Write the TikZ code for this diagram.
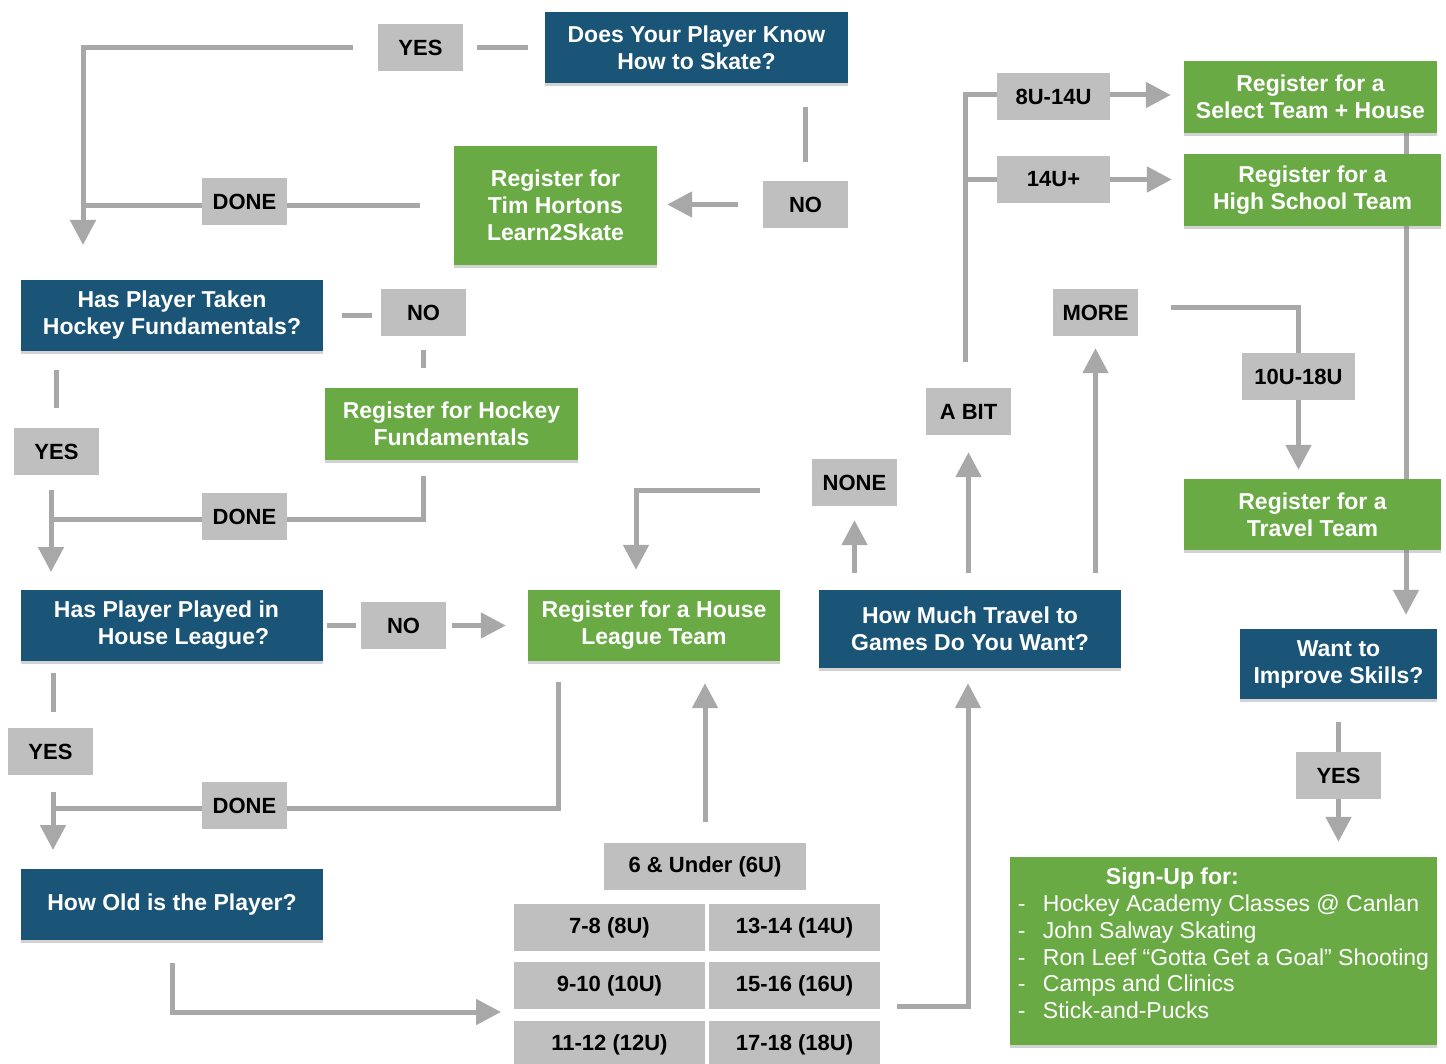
\documentclass[tikz,border=0pt]{standalone}
\usepackage{fontspec}
\setmainfont{Liberation Sans}
\usetikzlibrary{arrows.meta,shadows,backgrounds}

\definecolor{qblue}{RGB}{26,85,119}
\definecolor{rgreen}{RGB}{106,170,69}
\definecolor{lblgray}{RGB}{191,191,191}
\definecolor{conngray}{RGB}{168,168,168}

\begin{document}
\begin{tikzpicture}[x=1pt, y=-1pt,
    qbox/.style={fill=qblue, text=white, font=\fontsize{23}{27}\selectfont\bfseries, align=center, inner sep=0pt,
        drop shadow={opacity=0.35, shadow xshift=0pt, shadow yshift=-3pt}},
    regbox/.style={qbox, fill=rgreen},
    lbl/.style={fill=lblgray, font=\fontsize{22}{26}\selectfont\bfseries, minimum width=85pt, minimum height=47pt, inner sep=0pt},
    conn/.style={draw=conngray, line width=5pt},
    harrow/.style={-{Triangle[width=25pt,length=25pt]}}]

    \useasboundingbox (0,0) rectangle (1446,1064);

    % questions
    \node[qbox, minimum width=303pt, minimum height=71pt] (skate) at (696.5,47.5) {Does Your Player Know\\How to Skate?};
    \node[qbox, minimum width=302pt, minimum height=71pt] (fund) at (172,315.5) {Has Player Taken\\Hockey Fundamentals?};
    \node[qbox, minimum width=302pt, minimum height=71pt] (league) at (172,625.5) {Has Player Played in\hspace*{11pt}\\\hspace*{23pt}House League?};
    \node[qbox, minimum width=302pt, minimum height=71pt] (age) at (172,904.5) {How Old is the Player?};
    \node[qbox, minimum width=302pt, minimum height=78pt] (travel) at (970,629) {How Much Travel to\\Games Do You Want?};
    \node[qbox, minimum width=197pt, minimum height=70pt] (skills) at (1338.5,664) {Want to\\Improve Skills?};

    % registrations
    \node[regbox, minimum width=203pt, minimum height=119pt] (learn) at (555.5,205.5) {Register for\\Tim Hortons\\Learn2Skate};
    \node[regbox, minimum width=253pt, minimum height=72pt] (hockeyfund) at (451.5,424) {Register for Hockey\\Fundamentals};
    \node[regbox, minimum width=252pt, minimum height=71pt] (house) at (654,625.5) {Register for a House\\League Team};
    \node[regbox, minimum width=253pt, minimum height=72pt] (select) at (1310.5,97) {Register for a\\Select Team + House};
    \node[regbox, minimum width=257pt, minimum height=72pt] (school) at (1312.5,190) {Register for a\\High School Team};
    \node[regbox, minimum width=257pt, minimum height=71pt] (travelteam) at (1312.5,514.5) {Register for a\\Travel Team};
    \node[regbox, minimum width=427pt, minimum height=188pt, font=\fontsize{23}{26.75}\selectfont, align=left] (signup) at (1223.5,951)
        {\hspace*{88pt}\textbf{Sign-Up for:}\\
         \makebox[25pt][l]{-}Hockey Academy Classes @ Canlan\\
         \makebox[25pt][l]{-}John Salway Skating\\
         \makebox[25pt][l]{-}Ron Leef “Gotta Get a Goal” Shooting\\
         \makebox[25pt][l]{-}Camps and Clinics\\
         \makebox[25pt][l]{-}Stick-and-Pucks\rule[-15pt]{0pt}{15pt}};

    % answers
    \node[lbl] (yesA) at (420.5,48) {YES};
    \node[lbl] (noA) at (805.5,204.5) {NO};
    \node[lbl] (doneA) at (244.5,201.5) {DONE};
    \node[lbl] (noB) at (423.5,312.5) {NO};
    \node[lbl] (yesB) at (56.5,451.5) {YES};
    \node[lbl] (doneB) at (244.5,516.5) {DONE};
    \node[lbl] (noC) at (403.5,625.5) {NO};
    \node[lbl] (yesC) at (50.5,751.5) {YES};
    \node[lbl] (doneC) at (244.5,805.5) {DONE};
    \node[lbl] (none) at (854.5,482.5) {NONE};
    \node[lbl] (abit) at (968.5,411.5) {A BIT};
    \node[lbl] (more) at (1095.5,312.5) {MORE};
    \node[lbl, minimum width=113pt] (sel14) at (1053.5,96.5) {8U-14U};
    \node[lbl, minimum width=113pt] (hs14) at (1053.5,179.5) {14U+};
    \node[lbl, minimum width=113pt] (trv18) at (1298.5,376.5) {10U-18U};
    \node[lbl] (yesD) at (1338.5,775.5) {YES};

    % ages
    \node[lbl, minimum width=202pt] (u6) at (705,866.5) {6 \& Under (6U)};
    \node[lbl, minimum width=191pt] (u8) at (609.5,927.5) {7-8 (8U)};
    \node[lbl, minimum width=171pt] (u14) at (794.5,927.5) {13-14 (14U)};
    \node[lbl, minimum width=191pt] (u10) at (609.5,985.5) {9-10 (10U)};
    \node[lbl, minimum width=171pt] (u16) at (794.5,985.5) {15-16 (16U)};
    \node[lbl, minimum width=191pt] (u12) at (609.5,1044.5) {11-12 (12U)};
    \node[lbl, minimum width=171pt] (u18) at (794.5,1044.5) {17-18 (18U)};

    \coordinate (tipA) at (83,245);
    \coordinate (tipB) at (51,572);
    \coordinate (tipC) at (53,850);
    \coordinate (tipD) at (501,1012);

    \begin{scope}[on background layer]
    \fill[white] (0,0) rectangle (1446,1064);

    % skating
    \draw[conn, shorten <=14pt, shorten >=17pt] (yesA.east) -- (yesA.east -| skate.west);
    \draw[conn, harrow, shorten <=25pt] (yesA.west) -| (tipA);
    \draw[conn, shorten <=24pt, shorten >=19pt] (skate.south -| noA) -- (noA.north);
    \draw[conn, harrow, shorten <=25pt, shorten >=10pt] (noA.west) -- (noA.west -| learn.east);
    \draw[conn, shorten <=34pt] (learn.west) -- (learn.west -| tipA);

    % fundamentals
    \draw[conn, shorten <=19pt, shorten >=9pt] (fund.east) -- (fund.east -| noB.west);
    \draw[conn, shorten <=14pt, shorten >=20pt] (noB.south) -- (noB.south |- hockeyfund.north);
    \draw[conn, shorten <=19pt, shorten >=20pt] (fund.south -| yesB) -- (yesB.north);
    \draw[conn, harrow, shorten <=15pt] (yesB.south -| tipB) -- (tipB);
    \draw[conn, shorten <=16pt] (hockeyfund.south -| noB) |- ([yshift=-2.5pt]tipB |- doneB);

    % house league
    \draw[conn, shorten <=4pt, shorten >=5pt] (league.east) -- (noC.west);
    \draw[conn, harrow, shorten <=6pt, shorten >=22pt] (noC.east) -- (house.west);
    \draw[conn, shorten <=12pt, shorten >=16pt] (league.south -| tipC) -- (yesC.north -| tipC);
    \draw[conn, harrow, shorten <=17pt] (yesC.south -| tipC) -- (tipC);
    \draw[conn, shorten <=21pt] ([xshift=-96pt]house.south) |- ([yshift=-2.5pt]tipC |- doneC);

    % age
    \draw[conn, harrow, shorten <=23pt] (age.south) |- (tipD);
    \draw[conn, harrow, shorten <=21pt, shorten >=22pt] (u6.north) -- (u6.north |- house.south);
    \draw[conn, harrow, shorten <=17pt, shorten >=15pt] ([yshift=-20.5pt]u16.east) -| ([xshift=-2pt]travel.south);

    % travel
    \draw[conn, harrow, shorten <=17pt, shorten >=14pt] (none.south |- travel.north) -- (none.south);
    \draw[conn, harrow, shorten <=52pt, shorten >=20pt] ([yshift=-7.5pt]none.west) -| ([xshift=-18pt]house.north);
    \draw[conn, harrow, shorten <=17pt, shorten >=17pt] (abit.south |- travel.north) -- (abit.south);
    \draw[conn, shorten <=26pt] ([xshift=-3pt]abit.north) |- ([yshift=1.5pt]sel14.west);
    \draw[conn] ([xshift=-3pt]abit.north |- hs14.west) -- (hs14.west);
    \draw[conn, harrow, shorten >=13pt] ([yshift=1.5pt]sel14.east) -- ([yshift=1.5pt]sel14.east -| select.west);
    \draw[conn, harrow, shorten >=12pt] (hs14.east) -- (hs14.east -| school.west);
    \draw[conn, harrow, shorten <=17pt, shorten >=12pt] (more.south |- travel.north) -- (more.south);
    \draw[conn, shorten <=33pt] ([yshift=4.5pt]more.east) -| (trv18.north);
    \draw[conn, harrow, shorten >=9pt] (trv18.south) -- (trv18.south |- travelteam.north);

    % skills
    \draw[conn, harrow, shorten >=14pt] ([xshift=95.5pt]select.south) -- ([xshift=95.5pt]select.south |- skills.north);
    \draw[conn, shorten <=23pt] (skills.south -| yesD) -- (yesD.north);
    \draw[conn, harrow, shorten >=15pt] (yesD.south) -- (yesD.south |- signup.north);
    \end{scope}

\end{tikzpicture}
\end{document}
